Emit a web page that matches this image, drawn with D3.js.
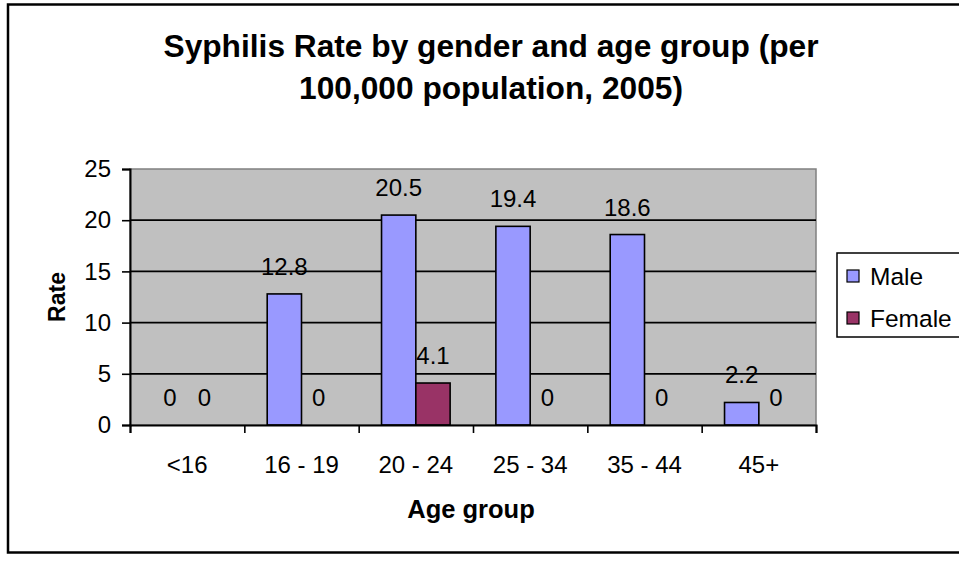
<!DOCTYPE html>
<html><head><meta charset="utf-8">
<script src="https://cdn.jsdelivr.net/npm/d3@7"></script>
<style>body{margin:0;background:#fff}svg{display:block}text{font-family:Arial,"Liberation Sans",sans-serif}</style>
</head><body>
<script>
const categories = ["<16","16 - 19","20 - 24","25 - 34","35 - 44","45+"];
const seriesNames = ["Male","Female"];
const maleValues = [0, 12.8, 20.5, 19.4, 18.6, 2.2];
const femaleValues = [0, 0, 4.1, 0, 0, 0];
const yTicks = [0,5,10,15,20,25];
const colors = ["#9999FF","#993366"];
const titleLines = ["Syphilis Rate by gender and age group (per","100,000 population, 2005)"];

const W = 959, H = 563;
const FF = "Arial, 'Liberation Sans', sans-serif";
const svg = d3.select("body").append("svg").attr("width",W).attr("height",H);
const plot = {l:130, r:816, t:169, b:425};

// outer frame
svg.append("rect").attr("x",8).attr("y",4.5).attr("width",1000).attr("height",548)
  .attr("fill","#fff").attr("stroke","#000").attr("stroke-width",2.5);

const x0 = d3.scaleBand().domain(categories).range([plot.l,plot.r]).paddingInner(0.4).paddingOuter(0.2);
const x1 = d3.scaleBand().domain(seriesNames).range([0,x0.bandwidth()]);
const y = d3.scaleLinear().domain([0,25]).range([plot.b,plot.t]);
const xb = d3.scaleLinear().domain([0,categories.length]).range([plot.l,plot.r]);

// plot area bg
svg.append("rect").attr("x",plot.l).attr("y",plot.t).attr("width",plot.r-plot.l).attr("height",plot.b-plot.t)
  .attr("fill","#C0C0C0").attr("stroke","#808080").attr("stroke-width",1.5);

// gridlines
svg.append("g").selectAll("line").data(yTicks.filter(d=>d>0 && d<25)).join("line")
  .attr("x1",plot.l).attr("x2",plot.r).attr("y1",d=>y(d)).attr("y2",d=>y(d))
  .attr("stroke","#000").attr("stroke-width",1.8);

// bars
const rows = categories.map((c,i)=>({c, vals:[maleValues[i],femaleValues[i]]}));
const g = svg.append("g");
rows.forEach(r=>{
  r.vals.forEach((v,j)=>{
    const bx = x0(r.c)+x1(seriesNames[j]);
    if (v>0) g.append("rect").attr("x",bx).attr("y",y(v)).attr("width",x1.bandwidth()).attr("height",y(0)-y(v))
      .attr("fill",colors[j]).attr("stroke","#000").attr("stroke-width",1.6);
    g.append("text").attr("x",bx+x1.bandwidth()/2).attr("y",y(v)-19).attr("text-anchor","middle")
      .attr("font-size",24).attr("fill","#000").text(v);
  });
});

// y axis
const yAxis = svg.append("g").attr("transform",`translate(${plot.l},0)`)
  .call(d3.axisLeft(y).tickValues(yTicks).tickSize(8).tickPadding(11));
yAxis.select(".domain").attr("stroke","#000").attr("stroke-width",2);
yAxis.selectAll(".tick line").attr("stroke","#000").attr("stroke-width",1.6);
yAxis.selectAll("text").attr("font-size",24).attr("font-family",FF).attr("fill","#000");

// x axis boundaries
const xAxis = svg.append("g").attr("transform",`translate(0,${plot.b})`)
  .call(d3.axisBottom(xb).ticks(categories.length).tickSize(8).tickFormat(""));
xAxis.select(".domain").attr("stroke","#000").attr("stroke-width",2);
xAxis.selectAll(".tick line").attr("stroke","#000").attr("stroke-width",1.6);
// category labels
const xLab = svg.append("g").attr("transform",`translate(0,${plot.b})`)
  .call(d3.axisBottom(x0).tickSize(0).tickPadding(48));
xLab.select(".domain").remove();
xLab.selectAll("text").attr("font-size",24).attr("font-family",FF).attr("fill","#000").attr("dy",0);

// titles
svg.append("g").selectAll("text").data(titleLines).join("text")
  .attr("x",491).attr("y",(d,i)=>57+i*42).attr("text-anchor","middle")
  .attr("font-size",31.7).attr("font-weight","bold").text(d=>d);
svg.append("text").attr("x",471).attr("y",518).attr("text-anchor","middle")
  .attr("font-size",25.5).attr("font-weight","bold").text("Age group");
svg.append("text").attr("transform",`translate(65,${(plot.t+plot.b)/2}) rotate(-90)`).attr("text-anchor","middle")
  .attr("font-size",23).attr("font-weight","bold").text("Rate");

// legend
const lg = svg.append("g");
lg.append("rect").attr("x",837).attr("y",253).attr("width",140).attr("height",84)
  .attr("fill","#fff").attr("stroke","#000").attr("stroke-width",1.5);
seriesNames.forEach((s,i)=>{
  const cy = 276 + i*42;
  lg.append("rect").attr("x",847).attr("y",cy-6).attr("width",12).attr("height",12)
    .attr("fill",colors[i]).attr("stroke","#000").attr("stroke-width",1.2);
  lg.append("text").attr("x",870).attr("y",cy+8.5).attr("font-size",24.5).text(s);
});
</script>
</body></html>
